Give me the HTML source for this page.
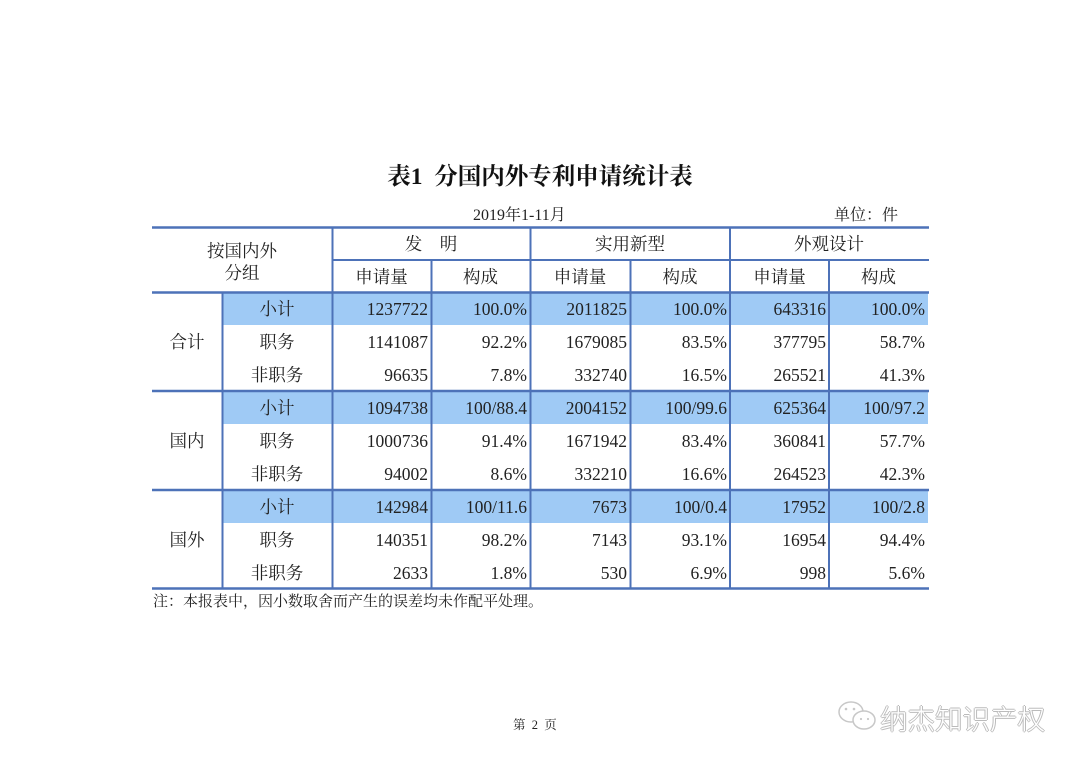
<!DOCTYPE html>
<html><head><meta charset="utf-8">
<style>
html,body{margin:0;padding:0;background:#fff;}
body{width:1080px;height:763px;position:relative;overflow:hidden;font-family:"Liberation Serif","Noto Serif CJK SC",serif;color:#222;}
.abs{position:absolute;white-space:nowrap;}
table{position:absolute;left:152px;top:292px;border-collapse:collapse;table-layout:fixed;font-size:17.5px;}
td{height:31px;padding:2px 0 0 0;line-height:31px;overflow:hidden;white-space:nowrap;}
td.n{text-align:right;padding-right:3px;}
td.c{text-align:center;}
tr.h td.b{background:#9fcaf5;}
.hd{font-size:17.5px;text-align:center;}
</style></head><body>

<div class="abs" style="left:370px;top:157px;width:340px;text-align:center;font-size:23.5px;font-weight:bold;font-family:'Liberation Serif','Noto Serif CJK SC',serif;color:#111;">表1&nbsp;&nbsp;分国内外专利申请统计表</div>
<div class="abs" style="left:473px;top:202px;font-size:16px;">2019年1-11月</div>
<div class="abs" style="left:834px;top:202px;font-size:16px;">单位：件</div>

<!-- header -->
<div class="abs hd" style="left:152px;top:240px;width:180px;line-height:22px;">按国内外<br>分组</div>
<div class="abs hd" style="left:332px;top:228px;width:198px;line-height:33px;">发&nbsp;&nbsp;&nbsp;&nbsp;明</div>
<div class="abs hd" style="left:530px;top:228px;width:200px;line-height:33px;">实用新型</div>
<div class="abs hd" style="left:730px;top:228px;width:198px;line-height:33px;">外观设计</div>
<div class="abs hd" style="left:332px;top:261px;width:99px;line-height:33px;">申请量</div>
<div class="abs hd" style="left:431px;top:261px;width:99px;line-height:33px;">构成</div>
<div class="abs hd" style="left:530px;top:261px;width:100px;line-height:33px;">申请量</div>
<div class="abs hd" style="left:630px;top:261px;width:100px;line-height:33px;">构成</div>
<div class="abs hd" style="left:730px;top:261px;width:99px;line-height:33px;">申请量</div>
<div class="abs hd" style="left:829px;top:261px;width:99px;line-height:33px;">构成</div>

<table>
<colgroup><col style="width:70px"><col style="width:110px"><col style="width:99px"><col style="width:99px"><col style="width:100px"><col style="width:100px"><col style="width:99px"><col style="width:99px"></colgroup>
<tr class="h"><td class="c" rowspan="3">合计</td><td class="c b">小计</td><td class="n b">1237722</td><td class="n b">100.0%</td><td class="n b">2011825</td><td class="n b">100.0%</td><td class="n b">643316</td><td class="n b">100.0%</td></tr>
<tr><td class="c">职务</td><td class="n">1141087</td><td class="n">92.2%</td><td class="n">1679085</td><td class="n">83.5%</td><td class="n">377795</td><td class="n">58.7%</td></tr>
<tr><td class="c">非职务</td><td class="n">96635</td><td class="n">7.8%</td><td class="n">332740</td><td class="n">16.5%</td><td class="n">265521</td><td class="n">41.3%</td></tr>
<tr class="h"><td class="c" rowspan="3">国内</td><td class="c b">小计</td><td class="n b">1094738</td><td class="n b">100/88.4</td><td class="n b">2004152</td><td class="n b">100/99.6</td><td class="n b">625364</td><td class="n b">100/97.2</td></tr>
<tr><td class="c">职务</td><td class="n">1000736</td><td class="n">91.4%</td><td class="n">1671942</td><td class="n">83.4%</td><td class="n">360841</td><td class="n">57.7%</td></tr>
<tr><td class="c">非职务</td><td class="n">94002</td><td class="n">8.6%</td><td class="n">332210</td><td class="n">16.6%</td><td class="n">264523</td><td class="n">42.3%</td></tr>
<tr class="h"><td class="c" rowspan="3">国外</td><td class="c b">小计</td><td class="n b">142984</td><td class="n b">100/11.6</td><td class="n b">7673</td><td class="n b">100/0.4</td><td class="n b">17952</td><td class="n b">100/2.8</td></tr>
<tr><td class="c">职务</td><td class="n">140351</td><td class="n">98.2%</td><td class="n">7143</td><td class="n">93.1%</td><td class="n">16954</td><td class="n">94.4%</td></tr>
<tr><td class="c">非职务</td><td class="n">2633</td><td class="n">1.8%</td><td class="n">530</td><td class="n">6.9%</td><td class="n">998</td><td class="n">5.6%</td></tr>
</table>

<svg class="abs" style="left:0;top:0" width="1080" height="763" viewBox="0 0 1080 763">
<g stroke="#4d72b8" fill="none">
<line x1="152" y1="227.5" x2="929" y2="227.5" stroke-width="2.5"/>
<line x1="332" y1="260" x2="929" y2="260" stroke-width="2"/>
<line x1="152" y1="292.5" x2="929" y2="292.5" stroke-width="2.5"/>
<line x1="152" y1="391" x2="929" y2="391" stroke-width="2.5"/>
<line x1="152" y1="490" x2="929" y2="490" stroke-width="2.5"/>
<line x1="152" y1="588.5" x2="929" y2="588.5" stroke-width="2.5"/>
<line x1="222.5" y1="292" x2="222.5" y2="589" stroke-width="2"/>
<line x1="332.5" y1="227" x2="332.5" y2="589" stroke-width="2"/>
<line x1="431.5" y1="260" x2="431.5" y2="589" stroke-width="2"/>
<line x1="530.5" y1="227" x2="530.5" y2="589" stroke-width="2"/>
<line x1="630.5" y1="260" x2="630.5" y2="589" stroke-width="2"/>
<line x1="730" y1="227" x2="730" y2="589" stroke-width="2"/>
<line x1="829" y1="260" x2="829" y2="589" stroke-width="2"/>
</g>
<!-- wechat icon -->
<g fill="#fff" stroke="#c8c8c8" stroke-width="1.5">
<ellipse cx="851" cy="712" rx="12" ry="10"/>
<ellipse cx="864" cy="720" rx="11" ry="9"/>
</g>
<g fill="#c8c8c8"><circle cx="846" cy="709" r="1.3"/><circle cx="854" cy="709" r="1.3"/><circle cx="861" cy="719" r="1.1"/><circle cx="868" cy="719" r="1.1"/></g>
</svg>

<div class="abs" style="left:153px;top:592px;font-size:15px;line-height:20px;">注：本报表中，因小数取舍而产生的误差均未作配平处理。</div>
<div class="abs" style="left:513px;top:717px;font-size:12.5px;line-height:16px;">第&nbsp;&nbsp;2&nbsp;&nbsp;页</div>
<div class="abs" style="left:880px;top:700px;font-size:27.5px;line-height:34px;color:#fff;font-family:'Noto Sans CJK SC',sans-serif;font-weight:300;text-shadow:1px 0 0 #bbb,-1px 0 0 #bbb,0 1px 0 #bbb,0 -1px 0 #bbb;">纳杰知识产权</div>

</body></html>
